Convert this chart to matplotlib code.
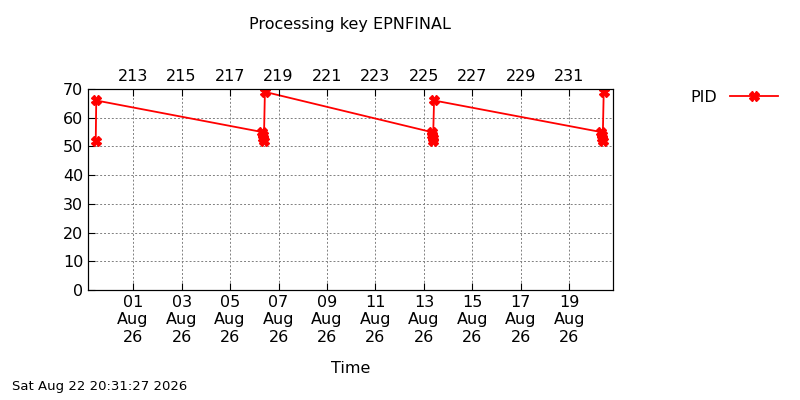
import matplotlib
matplotlib.use("Agg")
import matplotlib.pyplot as plt
from datetime import datetime, timedelta

times = ["2026-07-30 11:00", "2026-07-30 11:30", "2026-08-06 08:00", "2026-08-06 08:30", "2026-08-06 09:00",
         "2026-08-06 09:30", "2026-08-06 10:30", "2026-08-13 07:30", "2026-08-13 08:00", "2026-08-13 08:30",
         "2026-08-13 09:00", "2026-08-13 10:00", "2026-08-20 07:30", "2026-08-20 08:00", "2026-08-20 08:30",
         "2026-08-20 09:00", "2026-08-20 10:00"]
pid = [52, 66, 55, 54, 53, 52, 69, 55, 54, 53, 52, 66, 55, 54, 53, 52, 69]

t = [datetime.strptime(s, "%Y-%m-%d %H:%M") for s in times]

fig = plt.figure(figsize=(8, 4), dpi=100)
ax = fig.add_axes([0.11, 0.275, 0.656, 0.5025])
ax.plot(t, pid, color="red", marker="X", markersize=7, lw=1.3, label="PID")
ax.set_ylim(0, 70)
ax.set_yticks(range(0, 71, 10))
x0 = datetime(2026, 7, 30, 3, 20)
x1 = datetime(2026, 8, 20, 19, 0)
ax.set_xlim(x0, x1)
ticks = [datetime(2026, 8, 1) + timedelta(days=2 * i) for i in range(10)]
ax.set_xticks(ticks)
ax.set_xticklabels([d.strftime("%d\n%b\n%y") for d in ticks])
ax.grid(True, color="gray", linestyle=(0, (2, 2)), lw=0.7)
ax.tick_params(direction="in", labelsize=11.5, length=5)
ax.set_xlabel("Time", fontsize=11.5, labelpad=12)
for s in ax.spines.values():
    s.set_linewidth(0.8)

top = ax.twiny()
top.set_xlim(ax.get_xlim())
top.set_xticks(ticks)
top.set_xticklabels([str(d.timetuple().tm_yday) for d in ticks])
top.tick_params(direction="in", labelsize=11.5, length=5)

fig.text(0.4375, 0.94, "Processing key EPNFINAL", ha="center", va="center", fontsize=11.5)
fig.text(0.015, 0.025, "Sat Aug 22 20:31:27 2026", fontsize=9.5)
ax.legend(loc="center left", bbox_to_anchor=(1.12, 0.96), frameon=False, markerfirst=False,
          fontsize=11.5, handlelength=3)
fig.savefig("out.png")
